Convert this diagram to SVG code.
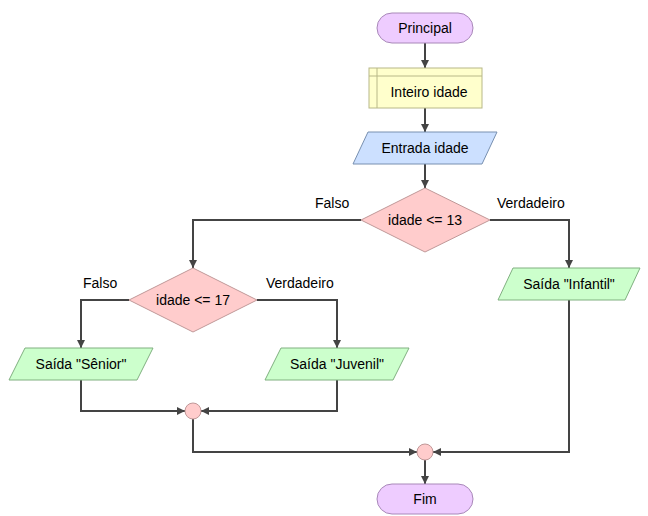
<svg xmlns="http://www.w3.org/2000/svg" width="648" height="516" viewBox="0 0 648 516">
<style>
text{font-family:"Liberation Sans",Arial,sans-serif;font-size:14px;fill:#000}
.c{text-anchor:middle;dominant-baseline:central}
.term{fill:#eeccff;stroke:#a888b8;stroke-width:1}
.decl{fill:#ffffcc;stroke:#b8b888;stroke-width:1}
.inp{fill:#cce0ff;stroke:#7890b0;stroke-width:1}
.dec{fill:#ffcccc;stroke:#c09898;stroke-width:1}
.out{fill:#ccffcc;stroke:#80b080;stroke-width:1}
.link{fill:none;stroke:#444;stroke-width:2;marker-end:url(#arr)}
</style>
<defs>
<marker id="arr" markerUnits="userSpaceOnUse" markerWidth="10" markerHeight="10" refX="8" refY="4" orient="auto">
<path d="M0,0 L8,4 L0,8 z" fill="#444"/>
</marker>
</defs>
<rect width="648" height="516" fill="#fff"/>
<g id="connectors">
<path class="link" d="M425,43 V68"/>
<path class="link" d="M425,108 V132"/>
<path class="link" d="M425,164 V188"/>
<path class="link" d="M490,220 H569 V268"/>
<path class="link" d="M361,220 H193 V268"/>
<path class="link" d="M129,300 H81 V348"/>
<path class="link" d="M257,300 H337 V348"/>
<path class="link" d="M81,380 V411 H185"/>
<path class="link" d="M337,380 V411 H201"/>
<path class="link" d="M193,419 V452 H417"/>
<path class="link" d="M569,300 V452 H433"/>
<path class="link" d="M425,460 V484"/>
<text x="315" y="208">Falso</text>
<text x="497" y="208">Verdadeiro</text>
<text x="83" y="288">Falso</text>
<text x="266" y="288">Verdadeiro</text>
</g>
<g id="principal">
<rect class="term" x="377" y="13" width="96" height="30" rx="15"/>
<text class="c" x="425" y="28">Principal</text>
</g>
<g id="inteiro">
<rect class="decl" x="369" y="68" width="113" height="40"/>
<path d="M369,76 H482 M377,68 V108" stroke="#b8b888" stroke-width="1" fill="none"/>
<text class="c" x="429" y="92">Inteiro idade</text>
</g>
<g id="entrada">
<polygon class="inp" points="368,132 497,132 482,164 353,164"/>
<text class="c" x="425" y="148">Entrada idade</text>
</g>
<g id="decisao13">
<polygon class="dec" points="425,188 490,220 425,252 361,220"/>
<text class="c" x="425" y="220">idade &lt;= 13</text>
</g>
<g id="infantil">
<polygon class="out" points="513,268 640,268 625,300 498,300"/>
<text class="c" x="569" y="284">Saída "Infantil"</text>
</g>
<g id="decisao17">
<polygon class="dec" points="193,268 257,300 193,332 129,300"/>
<text class="c" x="193" y="300">idade &lt;= 17</text>
</g>
<g id="senior">
<polygon class="out" points="25,348 153,348 137,380 9,380"/>
<text class="c" x="81" y="364">Saída "Sênior"</text>
</g>
<g id="juvenil">
<polygon class="out" points="281,348 409,348 393,380 265,380"/>
<text class="c" x="337" y="364">Saída "Juvenil"</text>
</g>
<g id="merge1">
<circle class="dec" cx="193" cy="411" r="8"/>
</g>
<g id="merge2">
<circle class="dec" cx="425" cy="452" r="8"/>
</g>
<g id="fim">
<rect class="term" x="377" y="484" width="96" height="30" rx="15"/>
<text class="c" x="425" y="499">Fim</text>
</g>
</svg>
